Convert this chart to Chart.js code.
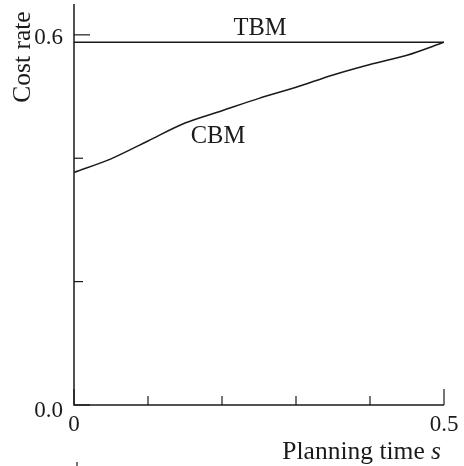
<!DOCTYPE html>
<html>
<head>
<meta charset="utf-8">
<script src="https://cdn.jsdelivr.net/npm/chart.js@4/dist/chart.umd.min.js"></script>
<style>
  html, body { margin: 0; padding: 0; background: #fff; }
  #wrap { width: 464px; height: 466px; }
</style>
</head>
<body>
<div id="wrap"><canvas id="chart" width="464" height="466"></canvas></div>
<script>
// planning time s
var planningTime = [0, 0.05, 0.1, 0.15, 0.2, 0.25, 0.3, 0.35, 0.4, 0.45, 0.5];
// cost rate
var cbmCost = [0.377, 0.399, 0.428, 0.457, 0.477, 0.497, 0.515, 0.535, 0.552, 0.567, 0.588];
var tbmCost = [0.588, 0.588, 0.588, 0.588, 0.588, 0.588, 0.588, 0.588, 0.588, 0.588, 0.588];

var yTicks = [0, 0.2, 0.4, 0.6];
var yLabels = { 0: "0.0", 0.6: "0.6" };
var xTicks = [0, 0.1, 0.2, 0.3, 0.4, 0.5];
var xLabels = { 0: "0", 0.5: "0.5" };

var FAMILY = "'Liberation Serif', 'Times New Roman', serif";
var TICK_FONT = "23px " + FAMILY;
var TITLE_FONT = "25.5px " + FAMILY;
var NOTE_FONT = "24.5px " + FAMILY;
var INK = "#1a1a1a";

function toPoints(xs, ys) {
  var pts = [];
  for (var i = 0; i < xs.length; ++i) {
    pts.push({ x: xs[i], y: ys[i] });
  }
  return pts;
}

// axes, inward ticks and all the text
var axesPlugin = {
  id: "axesPlugin",
  afterDraw: function (chart) {
    var ctx = chart.ctx;
    var xs = chart.scales.x;
    var ys = chart.scales.y;
    var area = chart.chartArea;
    ctx.save();
    ctx.strokeStyle = INK;
    ctx.fillStyle = INK;
    ctx.lineWidth = 1.5;

    // axis lines
    ctx.beginPath();
    ctx.moveTo(area.left, area.top);
    ctx.lineTo(area.left, area.bottom);
    ctx.lineTo(xs.getPixelForValue(0.5), area.bottom);
    ctx.stroke();

    ctx.lineWidth = 1.2;
    // y ticks
    yTicks.forEach(function (v) {
      var py = ys.getPixelForValue(v);
      var len = yLabels[v] ? 16 : 9;
      ctx.beginPath();
      ctx.moveTo(area.left, py);
      ctx.lineTo(area.left + len, py);
      ctx.stroke();
    });
    // x ticks
    xTicks.forEach(function (v) {
      var px = xs.getPixelForValue(v);
      var len = xLabels[v] ? 16 : 9;
      ctx.beginPath();
      ctx.moveTo(px, area.bottom);
      ctx.lineTo(px, area.bottom - len);
      ctx.stroke();
    });
    // stray mark at the bottom edge
    ctx.beginPath();
    ctx.moveTo(77, 462);
    ctx.lineTo(77, 466);
    ctx.stroke();

    ctx.font = TICK_FONT;
    // y labels
    ctx.textAlign = "right";
    ctx.textBaseline = "middle";
    ctx.fillText(yLabels[0.6], area.left - 11, ys.getPixelForValue(0.6) + 3);
    ctx.fillText(yLabels[0], area.left - 11, ys.getPixelForValue(0) + 6);
    // x labels
    ctx.textAlign = "center";
    ctx.fillText(xLabels[0], xs.getPixelForValue(0), area.bottom + 20);
    ctx.fillText(xLabels[0.5], xs.getPixelForValue(0.5), area.bottom + 20);

    // x title, italic s
    ctx.textAlign = "left";
    ctx.textBaseline = "alphabetic";
    var italicFont = "italic " + TITLE_FONT;
    ctx.font = italicFont;
    var sw = ctx.measureText("s").width;
    ctx.font = TITLE_FONT;
    var tw = ctx.measureText("Planning time ").width;
    var right = 441;
    ctx.fillText("Planning time ", right - sw - tw, 459);
    ctx.font = italicFont;
    ctx.fillText("s", right - sw, 459);

    // y title
    ctx.font = TITLE_FONT;
    ctx.save();
    ctx.translate(30, 57);
    ctx.rotate(-Math.PI / 2);
    ctx.textAlign = "center";
    ctx.fillText("Cost rate", 0, 0);
    ctx.restore();

    // curve labels
    ctx.font = NOTE_FONT;
    ctx.textAlign = "center";
    ctx.textBaseline = "middle";
    ctx.fillText("TBM", 260, 29);
    ctx.fillText("CBM", 218, 137);

    ctx.restore();
  }
};

var ctx = document.getElementById("chart").getContext("2d");
var chart = new Chart(ctx, {
  type: "line",
  data: {
    datasets: [
      {
        label: "TBM",
        data: toPoints(planningTime, tbmCost),
        borderColor: INK,
        borderWidth: 1.5,
        pointRadius: 0,
        tension: 0,
        fill: false
      },
      {
        label: "CBM",
        data: toPoints(planningTime, cbmCost),
        borderColor: INK,
        borderWidth: 1.5,
        pointRadius: 0,
        tension: 0.3,
        fill: false
      }
    ]
  },
  options: {
    responsive: false,
    animation: false,
    layout: { padding: { left: 74, top: 4, right: 20, bottom: 61 } },
    plugins: { legend: { display: false }, tooltip: { enabled: false } },
    scales: {
      x: { type: "linear", min: 0, max: 0.5, display: false },
      y: { type: "linear", min: 0, max: 0.65, display: false }
    }
  },
  plugins: [axesPlugin]
});
</script>
</body>
</html>
